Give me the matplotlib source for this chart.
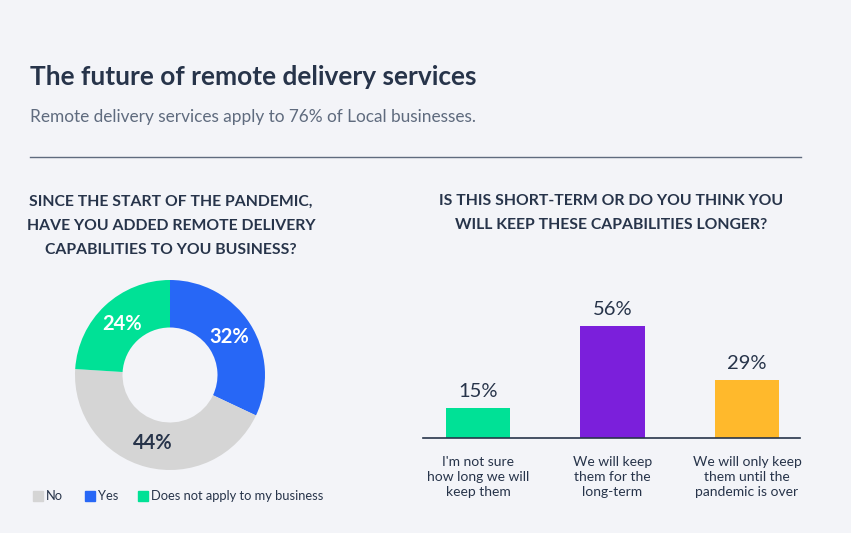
import numpy as np
import matplotlib.pyplot as plt
from matplotlib.patches import Rectangle

plt.rcParams['font.family'] = ['Lato', 'DejaVu Sans']

# donut data (clockwise from 12 o'clock)
pie_labels = ['Yes', 'No', 'Does not apply to my business']
pie_values = [32, 44, 24]
pie_colors = ['#2767f6', '#d5d5d5', '#00e196']
pie_text_colors = ['white', '#27344a', 'white']

legend_order = ['No', 'Yes', 'Does not apply to my business']

# bar data
bar_cats = ["I'm not sure\nhow long we will\nkeep them",
            "We will keep\nthem for the\nlong-term",
            "We will only keep\nthem until the\npandemic is over"]
bar_values = [15, 56, 29]
bar_colors = ['#00e196', '#7b1fdb', '#ffb92c']

W, H = 851, 533
bg = '#f3f4f8'
dark = '#27344a'

fig = plt.figure(figsize=(W / 100, H / 100), dpi=100)
fig.patch.set_facecolor(bg)

def fx(px):
    return px / W

def fy(py):
    return 1 - py / H

fig.text(fx(30), fy(77), 'The future of remote delivery services', fontsize=18.9,
         fontweight='bold', color=dark, va='center', ha='left')
fig.text(fx(30), fy(117), 'Remote delivery services apply to 76% of Local businesses.',
         fontsize=12.45, color='#5f6b7e', va='center', ha='left')
fig.add_artist(plt.Line2D([fx(30), fx(801)], [fy(157), fy(157)], color='#5f6b7e', lw=1))

fig.text(fx(171), fy(226), 'SINCE THE START OF THE PANDEMIC,\nHAVE YOU ADDED REMOTE DELIVERY\nCAPABILITIES TO YOU BUSINESS?',
         fontsize=11.35, fontweight='bold', color=dark, ha='center', va='center', linespacing=1.92)
fig.text(fx(611), fy(213), 'IS THIS SHORT-TERM OR DO YOU THINK YOU\nWILL KEEP THESE CAPABILITIES LONGER?',
         fontsize=11.35, fontweight='bold', color=dark, ha='center', va='center', linespacing=1.92)

# donut
ax1 = fig.add_axes([fx(75), fy(470), fx(190), 190 / H])
wedges, _ = ax1.pie(pie_values, colors=pie_colors, startangle=90, counterclock=False,
                    radius=1, wedgeprops=dict(width=0.5, edgecolor='none'))
ax1.set_xlim(-1, 1)
ax1.set_ylim(-1, 1)
start = 90
for v, c in zip(pie_values, pie_text_colors):
    mid = np.deg2rad(start - v * 3.6 / 2)
    start -= v * 3.6
    ax1.text(0.74 * np.cos(mid), 0.74 * np.sin(mid), f'{v}%', ha='center', va='center',
             fontsize=14.5, fontweight='bold', color=c)

# legend
lx = [33, 85, 138]
for x, lab in zip(lx, legend_order):
    col = pie_colors[pie_labels.index(lab)]
    fig.add_artist(Rectangle((fx(x), fy(501)), fx(10), 10 / H, color=col, transform=fig.transFigure))
    fig.text(fx(x + 13), fy(496), lab, fontsize=9.25, color=dark, va='center', ha='left')

# bars
ax2 = fig.add_axes([fx(423), fy(438), fx(377), 120 / H])
ax2.set_facecolor('none')
xs = np.arange(len(bar_values))
ax2.bar(xs, bar_values, width=0.476, color=bar_colors)
ax2.set_xlim(-0.409, 2.394)
ax2.set_ylim(0, 60)
for x, v in zip(xs, bar_values):
    ax2.text(x, v + 4, f'{v}%', ha='center', va='bottom', fontsize=14.5, color=dark)
ax2.set_yticks([])
ax2.set_xticks(xs)
ax2.set_xticklabels(bar_cats, fontsize=10, color=dark, linespacing=1.3)
ax2.tick_params(axis='x', length=0, pad=13)
for s in ['top', 'right', 'left']:
    ax2.spines[s].set_visible(False)
ax2.spines['bottom'].set_color(dark)
ax2.spines['bottom'].set_linewidth(1.2)

fig.savefig('out.png', dpi=100, facecolor=bg)
